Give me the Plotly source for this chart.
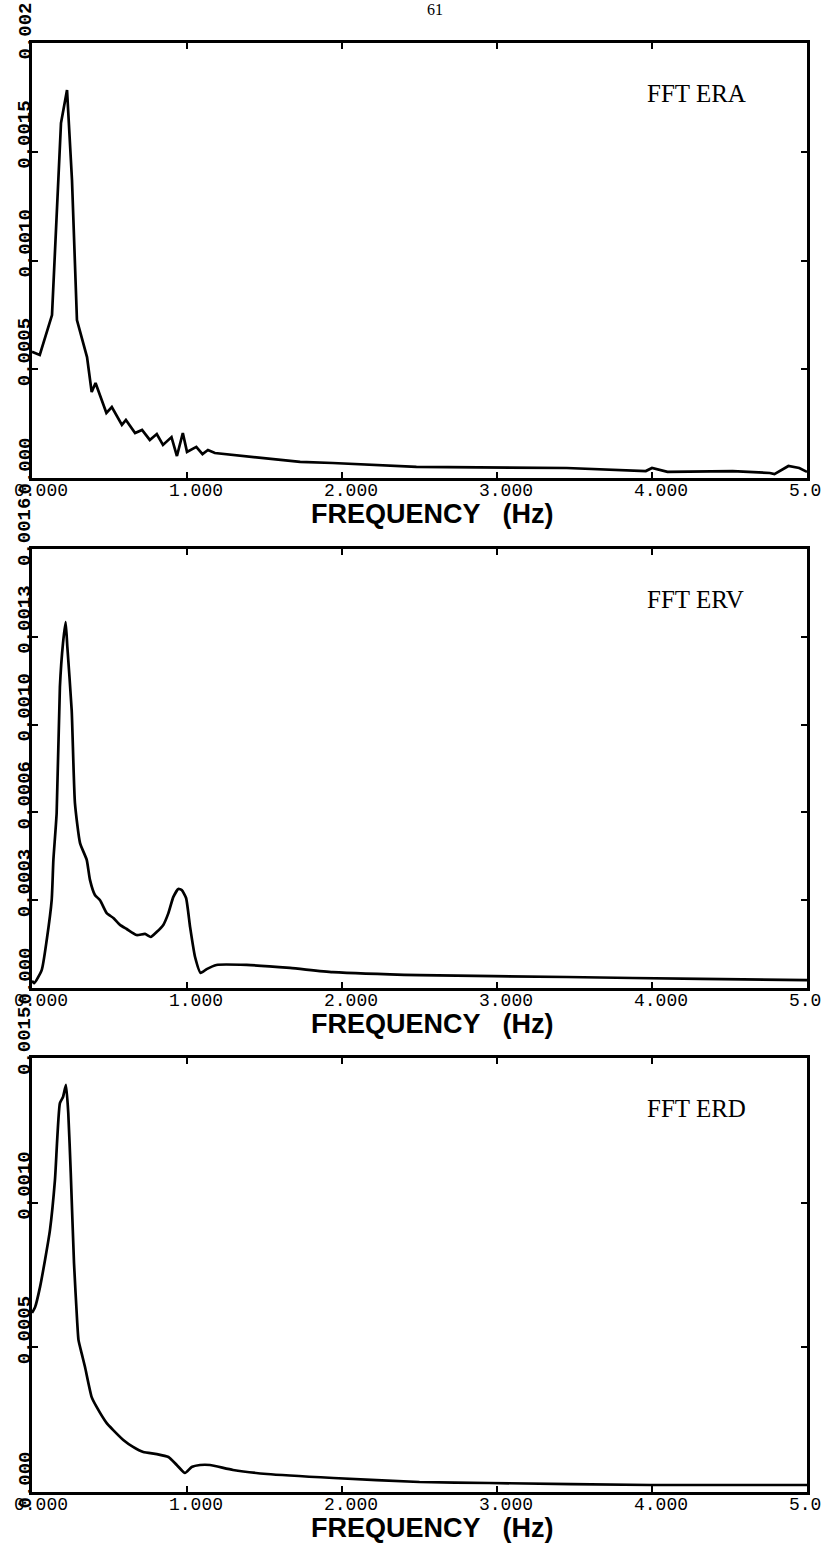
import plotly.graph_objects as go

W, H = 825, 1547

# ---------------- data ----------------
era_f = [0, 0.05, 0.129, 0.148, 0.187, 0.226, 0.258, 0.29, 0.32, 0.355,
         0.385, 0.41, 0.48, 0.515, 0.58, 0.606, 0.665, 0.71, 0.76, 0.805,
         0.845, 0.90, 0.935, 0.973, 1.0, 1.06, 1.10, 1.135, 1.18, 1.30,
         1.52, 1.73, 1.94, 2.48, 3.45, 3.96, 4.0, 4.1, 4.52, 4.76,
         4.79, 4.88, 4.95, 5.0]
era_v = [0.00058, 0.000566, 0.000749, 0.001034, 0.001632, 0.001784, 0.00137, 0.000726, 0.000648, 0.000556,
         0.000395, 0.000437, 0.000299, 0.000326, 0.000244, 0.000267, 0.000207, 0.000221, 0.000175, 0.000202,
         0.000152, 0.000188, 0.000101, 0.000207, 0.00012, 0.000143, 0.00011, 0.000129, 0.000115, 0.000106,
         0.000092, 0.000074, 0.000069, 0.000051, 0.000046, 0.000032, 0.000046, 0.000028, 0.000032, 0.000023,
         0.000018, 0.000055, 0.000046, 0.000028]

erv_f = [0.0, 0.015, 0.063, 0.095, 0.127, 0.138, 0.159, 0.18, 0.20, 0.217,
         0.228, 0.256, 0.277, 0.31, 0.353, 0.374, 0.406, 0.439, 0.482, 0.525,
         0.568, 0.611, 0.675, 0.729, 0.766, 0.804, 0.847, 0.88, 0.912, 0.944,
         0.966, 0.994, 1.02, 1.052, 1.088, 1.127, 1.19, 1.385, 1.665, 1.94,
         2.5, 3.45, 4.31, 5.0]
erv_v = [0.000026, 0.000018, 0.000066, 0.000175, 0.00032, 0.000467, 0.000638, 0.001097, 0.001257, 0.001334,
         0.001243, 0.001013, 0.000674, 0.000528, 0.000467, 0.000394, 0.000339, 0.00032, 0.000273, 0.000255,
         0.00023, 0.000215, 0.000193, 0.000197, 0.000186, 0.000204, 0.00023, 0.000273, 0.000332, 0.000361,
         0.000357, 0.000328, 0.000222, 0.000113, 0.000055, 0.000069, 0.000084, 0.000084, 0.000073, 0.000058,
         0.000047, 0.00004, 0.000033, 0.000029]

erd_f = [0, 0.02, 0.052, 0.084, 0.116, 0.148, 0.18, 0.20, 0.219, 0.234,
         0.25, 0.271, 0.292, 0.30, 0.32, 0.342, 0.385, 0.417, 0.482, 0.524,
         0.589, 0.652, 0.718, 0.805, 0.88, 0.934, 0.987, 1.03, 1.084, 1.148,
         1.297, 1.516, 1.945, 2.5, 2.95, 3.99, 5.0]
erd_v = [0.000619, 0.000639, 0.000709, 0.000802, 0.000906, 0.001078, 0.001344, 0.001365, 0.001407, 0.00131,
         0.001103, 0.000791, 0.000584, 0.000525, 0.00048, 0.000432, 0.000328, 0.000294, 0.000238, 0.000214,
         0.00018, 0.000156, 0.000138, 0.000131, 0.000121, 0.0000933, 0.0000657, 0.0000864, 0.0000933, 0.0000933,
         0.000076, 0.0000622, 0.0000484, 0.0000346, 0.0000311, 0.0000242, 0.0000242]

x_tickvals = [0, 1, 2, 3, 4, 5]
x_ticktext = ["0.000", "1.000", "2.000", "3.000", "4.000", "5.0"]

era_yticks = [0, 0.0005, 0.0010, 0.0015, 0.0020]
era_ytext = ["0.000", "0.0005", "0.0010", "0.0015", "0.002"]
erv_yticks = [0, 0.00032, 0.00064, 0.00096, 0.00128, 0.0016]
erv_ytext = ["0.000", "0.0003", "0.0006", "0.0010", "0.0013", "0.0016"]
erd_yticks = [0, 0.0005, 0.0010, 0.0015]
erd_ytext = ["0.000", "0.0005", "0.0010", "0.0015"]

labels = ["FFT ERA", "FFT ERV", "FFT ERD"]
x_title = "FREQUENCY   (Hz)"
page_number = "61"

# ---------------- layout geometry ----------------
def ydom(top_px, bot_px):
    return [1 - bot_px / H, 1 - top_px / H]

panels = [
    dict(f=era_f, v=era_v, ymax=0.002, yt=era_yticks, ytt=era_ytext, dom=ydom(43, 478), shape="linear"),
    dict(f=erv_f, v=erv_v, ymax=0.0016, yt=erv_yticks, ytt=erv_ytext, dom=ydom(549, 988), shape="spline"),
    dict(f=erd_f, v=erd_v, ymax=0.0015, yt=erd_yticks, ytt=erd_ytext, dom=ydom(1058, 1492), shape="spline"),
]

fig = go.Figure()
mono = "Liberation Mono"

for i, p in enumerate(panels):
    n = "" if i == 0 else str(i + 1)
    line = dict(color="black", width=2.7, shape=p["shape"])
    if p["shape"] == "spline":
        line["smoothing"] = 0.5
    fig.add_trace(go.Scatter(
        x=p["f"], y=p["v"], mode="lines", line=line,
        xaxis="x" + n, yaxis="y" + n, showlegend=False, hoverinfo="skip"))
    fig.layout["xaxis" + n] = dict(
        domain=[32 / W, 807 / W], range=[0, 5], anchor="y" + n,
        showline=True, linecolor="black", linewidth=3, mirror="ticks",
        ticks="inside", ticklen=6, tickwidth=1.5, tickcolor="black",
        tickvals=x_tickvals, showticklabels=False,
        showgrid=False, zeroline=False, fixedrange=True)
    fig.layout["yaxis" + n] = dict(
        domain=p["dom"], range=[0, p["ymax"]], anchor="x" + n,
        showline=True, linecolor="black", linewidth=3, mirror="ticks",
        ticks="inside", ticklen=6, tickwidth=1.5, tickcolor="black",
        tickvals=p["yt"], showticklabels=False,
        showgrid=False, zeroline=False, fixedrange=True)

    # x tick labels (decimal point sits on the tick)
    for xv, xt in zip(x_tickvals, x_ticktext):
        fig.add_annotation(
            x=xv, y=0, xref="x" + n, yref="y" + n + " domain",
            text=xt, showarrow=False, xanchor="left", yanchor="top",
            xshift=-20, yshift=-1,
            font=dict(family=mono, size=18, color="black"))
    # y tick labels, rotated
    for yv, yt in zip(p["yt"], p["ytt"]):
        fig.add_annotation(
            x=25 / W, y=yv, xref="paper", yref="y" + n,
            text=yt, textangle=-90, showarrow=False,
            xanchor="center", yanchor="bottom", yshift=-19,
            font=dict(family=mono, size=19, color="black", weight="bold"))
    # axis title
    fig.add_annotation(
        x=432 / W, y=0, xref="paper", yref="y" + n + " domain",
        text=x_title, showarrow=False, xanchor="center", yanchor="middle",
        yshift=-36,
        font=dict(family="Liberation Sans", size=27, color="black", weight="bold"))
    # panel label
    fig.add_annotation(
        x=645 / W, y=1, xref="paper", yref="y" + n + " domain",
        text=labels[i], showarrow=False, xanchor="left", yanchor="middle",
        yshift=-50,
        font=dict(family="Liberation Serif", size=25, color="black"))

# page number at the top edge
fig.add_annotation(
    x=435 / W, y=1, xref="paper", yref="paper",
    text=page_number, showarrow=False, xanchor="center", yanchor="top",
    yshift=1,
    font=dict(family="Liberation Serif", size=16, color="black"))

fig.update_layout(
    width=W, height=H,
    margin=dict(l=0, r=0, t=0, b=0),
    paper_bgcolor="white", plot_bgcolor="white",
    showlegend=False)

fig.write_html("out.html")
